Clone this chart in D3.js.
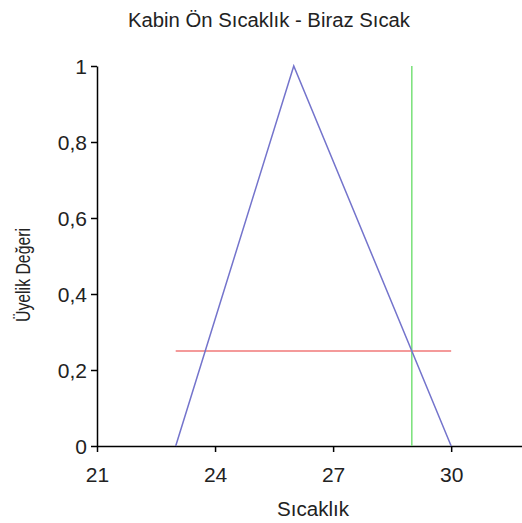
<!DOCTYPE html>
<html><head><meta charset="utf-8">
<script src="https://cdn.jsdelivr.net/npm/d3@7"></script>
<style>body{margin:0;background:#fff}svg{display:block}text{font-family:"Liberation Sans",Arial,sans-serif;fill:#222}</style>
</head><body>
<svg id="c" width="522" height="523"></svg>
<script>
const title = "Kabin Ön Sıcaklık - Biraz Sıcak";
const xTitle = "Sıcaklık";
const yTitle = "Üyelik Değeri";
const xTicks = [21, 24, 27, 30];
const yTicks = [0, 0.2, 0.4, 0.6, 0.8, 1];
// membership function (triangle)
const mfX = [23, 26, 30];
const mfY = [0, 1, 0];
// input value (vertical) and activation level (horizontal)
const inputX = [29, 29];
const inputY = [0, 1];
const levelX = [23, 30];
const levelY = [0.25, 0.25];

const svg = d3.select("#c");
const x = d3.scaleLinear().domain([21, 31.8]).range([97, 522]);
const y = d3.scaleLinear().domain([0, 1]).range([446, 66]);

const fmt = d => String(d).replace(".", ",");

const gx = svg.append("g").attr("transform", "translate(0,446)")
  .call(d3.axisBottom(x).tickValues(xTicks).tickSize(6).tickSizeOuter(0).tickFormat(d => d));
gx.select(".domain").attr("stroke", "#000").attr("stroke-width", 1.5);
gx.selectAll(".tick line").attr("stroke", "#000").attr("stroke-width", 1.5);
gx.selectAll(".tick text").attr("font-size", 21).attr("dy", null).attr("y", 36).attr("fill", "#222");

const gy = svg.append("g").attr("transform", "translate(97,0)")
  .call(d3.axisLeft(y).tickValues(yTicks).tickSize(6).tickSizeOuter(0).tickFormat(fmt));
gy.select(".domain").attr("stroke", "#000").attr("stroke-width", 1.5);
gy.selectAll(".tick line").attr("stroke", "#000").attr("stroke-width", 1.5);
gy.selectAll(".tick text").attr("font-size", 21).attr("x", -10).attr("dy", "0.36em").attr("fill", "#222");
svg.selectAll(".tick text").attr("font-family", '"Liberation Sans",Arial,sans-serif');

const line = d3.line().x(d => x(d[0])).y(d => y(d[1]));
const zip = (a, b) => a.map((v, i) => [v, b[i]]);

svg.append("path").datum(zip(levelX, levelY)).attr("d", line)
  .attr("fill", "none").attr("stroke", "#f07878").attr("stroke-width", 1.5);
svg.append("path").datum(zip(inputX, inputY)).attr("d", line)
  .attr("fill", "none").attr("stroke", "#78e078").attr("stroke-width", 1.5);
svg.append("path").datum(zip(mfX, mfY)).attr("d", line)
  .attr("fill", "none").attr("stroke", "#7474cc").attr("stroke-width", 1.5);

svg.append("text").attr("x", 269).attr("y", 27).attr("text-anchor", "middle")
  .attr("font-size", 20).attr("textLength", 282).attr("lengthAdjust", "spacingAndGlyphs").text(title);
svg.append("text").attr("x", 313).attr("y", 516).attr("text-anchor", "middle")
  .attr("font-size", 20).attr("textLength", 72).attr("lengthAdjust", "spacingAndGlyphs").text(xTitle);
svg.append("text").attr("transform", "translate(30,275) rotate(-90)").attr("text-anchor", "middle")
  .attr("font-size", 20).attr("textLength", 94).attr("lengthAdjust", "spacingAndGlyphs").text(yTitle);
</script>
</body></html>
